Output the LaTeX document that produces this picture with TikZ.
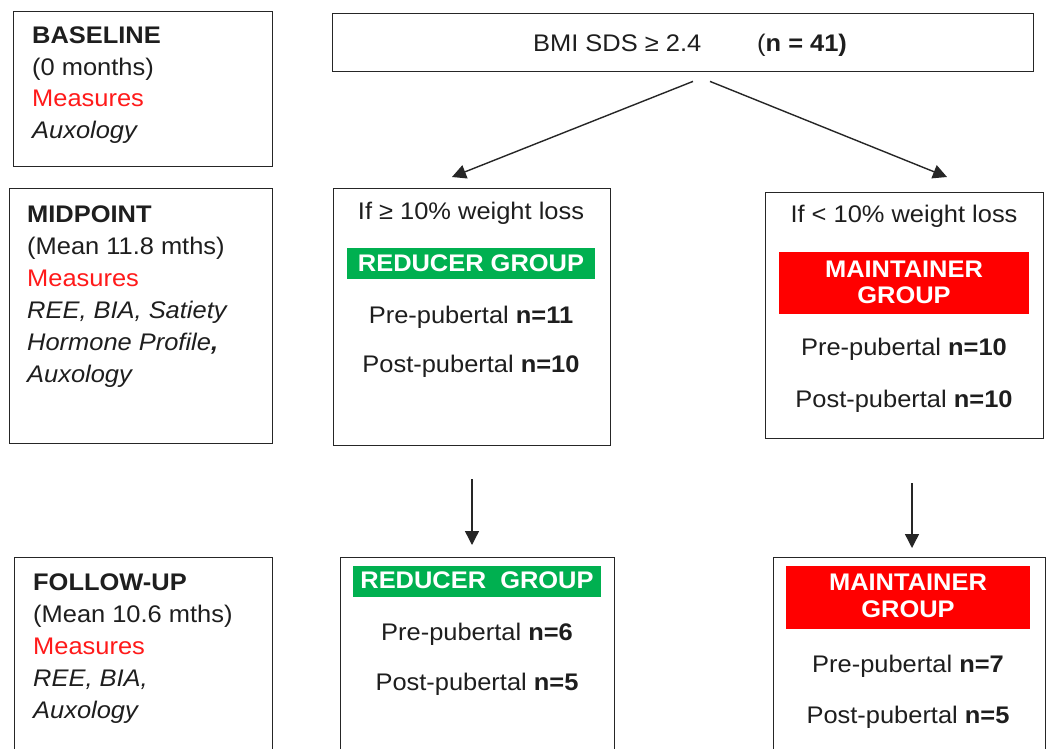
\documentclass[tikz,border=0pt]{standalone}
\usepackage{fontspec}
\setmainfont{Liberation Sans}[FakeStretch=1.06]
\usetikzlibrary{arrows.meta,calc}
\definecolor{boxline}{HTML}{262626}
\definecolor{grp}{HTML}{00B050}
\definecolor{rd}{HTML}{FF0000}
\definecolor{txt}{HTML}{1E1E1E}
\definecolor{msr}{HTML}{FF1A1A}
\begin{document}
\begin{tikzpicture}[x=1pt,y=-1pt,
  box/.style={draw=boxline, line width=1.4pt, rectangle, inner sep=0pt, anchor=north west},
  lt/.style={anchor=base west, inner sep=0pt, font=\fontsize{24}{30}\selectfont, text=txt},
  ct/.style={anchor=base, inner sep=0pt, font=\fontsize{24}{30}\selectfont, text=txt},
  wt/.style={anchor=base, inner sep=0pt, font=\fontsize{24}{30}\selectfont\bfseries, text=white},
  gbar/.style={fill=grp, draw=none, rectangle, inner sep=0pt, anchor=north west},
  rbar/.style={fill=rd, draw=none, rectangle, inner sep=0pt, anchor=north west},
  arr/.style={draw=black!85, line width=1.4pt, -{Triangle[length=14pt,width=14pt]}}]
\useasboundingbox (0,0) rectangle (1047,749);
\fill[white] (0,0) rectangle (1047,749);

% boxes
\node[box, minimum width=259pt, minimum height=155pt] (base) at (13,11) {};
\node[box, minimum width=701pt, minimum height=58pt] (bmi) at (332,13) {};
\node[box, minimum width=263pt, minimum height=255pt] (mid) at (9,188) {};
\node[box, minimum width=277pt, minimum height=257pt] (redmid) at (333,188) {};
\node[box, minimum width=278pt, minimum height=246pt] (maimid) at (765,192) {};
\node[box, minimum width=258pt, minimum height=205pt] (fol) at (14,557) {};
\node[box, minimum width=274pt, minimum height=205pt] (redfol) at (340,557) {};
\node[box, minimum width=272pt, minimum height=205pt] (maifol) at (773,557) {};

% bars
\node[gbar, minimum width=248pt, minimum height=31pt] (gb1) at (347,248) {};
\node[rbar, minimum width=250pt, minimum height=62pt] (rb1) at (779,252) {};
\node[gbar, minimum width=248pt, minimum height=31pt] (gb2) at (353,566) {};
\node[rbar, minimum width=244pt, minimum height=63pt] (rb2) at (786,566) {};

% baseline text
\node[lt] (b1) at (32,44) {\bfseries BASELINE};
\node[lt] (b2) at (32,75.5) {(0 months)};
\node[lt, text=msr] (b3) at (32,107) {Measures};
\node[lt] (b4) at (32,138.5) {\itshape Auxology};

% BMI
\node[lt] (bm1) at (533,52) {BMI SDS ≥ 2.4};
\node[lt] (bm2) at (757,52) {(\textbf{n = 41)}};

% midpoint text
\node[lt] (m1) at (27,222) {\bfseries MIDPOINT};
\node[lt] (m2) at (27,254) {(Mean 11.8 mths)};
\node[lt, text=msr] (m3) at (27,286) {Measures};
\node[lt] (m4) at (27,318) {\itshape REE, BIA, Satiety};
\node[lt] (m5) at (27,350) {\itshape Hormone Profile\bfseries,};
\node[lt] (m6) at (27,382) {\itshape Auxology};

% reducer midpoint
\node[ct] (r1) at (471,219) {If ≥ 10\% weight loss};
\node[wt] (r2) at (471,271) {REDUCER GROUP};
\node[ct] (r3) at (471,323) {Pre-pubertal \textbf{n=11}};
\node[ct] (r4) at (471,372) {Post-pubertal \textbf{n=10}};

% maintainer midpoint
\node[ct] (x1) at (904,222) {If < 10\% weight loss};
\node[wt] (x2) at (904,277) {MAINTAINER};
\node[wt] (x3) at (904,303) {GROUP};
\node[ct] (x4) at (904,355) {Pre-pubertal \textbf{n=10}};
\node[ct] (x5) at (904,407) {Post-pubertal \textbf{n=10}};

% follow-up text
\node[lt] (f1) at (33,590) {\bfseries FOLLOW-UP};
\node[lt] (f2) at (33,622) {(Mean 10.6 mths)};
\node[lt, text=msr] (f3) at (33,654) {Measures};
\node[lt] (f4) at (33,686) {\itshape REE, BIA,};
\node[lt] (f5) at (33,718) {\itshape Auxology};

% reducer follow-up
\node[wt] (s1) at (477,588) {REDUCER\ \ GROUP};
\node[ct] (s2) at (477,640) {Pre-pubertal \textbf{n=6}};
\node[ct] (s3) at (477,690) {Post-pubertal \textbf{n=5}};

% maintainer follow-up
\node[wt] (t1) at (908,590) {MAINTAINER};
\node[wt] (t2) at (908,617) {GROUP};
\node[ct] (t3) at (908,672) {Pre-pubertal \textbf{n=7}};
\node[ct] (t4) at (908,723) {Post-pubertal \textbf{n=5}};

% connector ends
\coordinate (a1s) at ($(bmi.south west)+(361,9)$);
\coordinate (a2s) at ($(bmi.south west)+(378,9)$);
\coordinate (a1e) at ($(redmid.north west)+(119,-11)$);
\coordinate (a2e) at ($(maimid.north west)+(182,-15)$);
\coordinate (a3s) at ($(redmid.south west)+(139,33)$);
\coordinate (a3e) at ($(redfol.north west)+(132,-12)$);
\coordinate (a4s) at ($(maimid.south west)+(147,44)$);
\coordinate (a4e) at ($(maifol.north west)+(139,-9)$);

\draw[arr] (a1s) -- (a1e);
\draw[arr] (a2s) -- (a2e);
\draw[arr] (a3s) -- (a3e);
\draw[arr] (a4s) -- (a4e);
\end{tikzpicture}
\end{document}
